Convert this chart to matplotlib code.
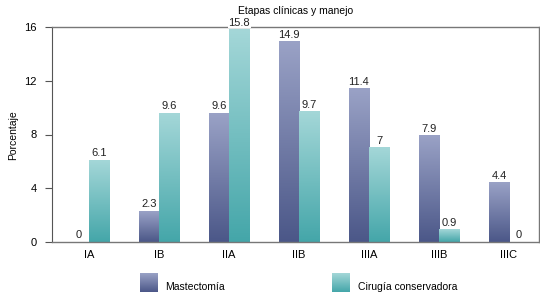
import numpy as np
import matplotlib
matplotlib.use("Agg")
import matplotlib.pyplot as plt
from matplotlib.colors import LinearSegmentedColormap

plt.rcParams['font.family'] = ['Liberation Sans Narrow', 'Liberation Sans', 'DejaVu Sans']

# data
etapas = ['IA', 'IB', 'IIA', 'IIB', 'IIIA', 'IIIB', 'IIIC']
mastectomia = [0, 2.3, 9.6, 14.9, 11.4, 7.9, 4.4]
cirugia = [6.1, 9.6, 15.8, 9.7, 7, 0.9, 0]
series_names = ['Mastectomía', 'Cirugía conservadora']
yticks = [0, 4, 8, 12, 16]

cmap_mast = LinearSegmentedColormap.from_list('mast', ['#4b5788', '#9aa2c6'])
cmap_cir = LinearSegmentedColormap.from_list('cir', ['#44a6a9', '#a4d7d8'])
grad = np.linspace(0, 1, 256).reshape(-1, 1)

fig = plt.figure(figsize=(5.4, 2.96), dpi=100)
ax = fig.add_axes([52 / 540, 1 - 242 / 296, (539 - 52) / 540, (242 - 27) / 296])

width = 0.286
x = np.arange(len(etapas))


def gradient_bars(ax, xs, vals, cmap):
    for xi, v in zip(xs, vals):
        if v <= 0:
            continue
        ax.imshow(grad, cmap=cmap, origin='lower', aspect='auto',
                  extent=(xi - width / 2, xi + width / 2, 0, v), zorder=2)


def labels(ax, xs, vals):
    for xi, v in zip(xs, vals):
        ax.text(xi, v + 0.15, f'{v:g}', ha='center', va='bottom', fontsize=8,
                color='#222222', zorder=4,
                bbox=dict(facecolor='white', edgecolor='none', pad=0.5))


gradient_bars(ax, x - width / 2, mastectomia, cmap_mast)
gradient_bars(ax, x + width / 2, cirugia, cmap_cir)
labels(ax, x - width / 2, mastectomia)
labels(ax, x + width / 2, cirugia)

ax.set_xlim(-0.53, 6.43)
ax.set_ylim(0, 16)
ax.set_yticks(yticks)
ax.set_xticks(x)
ax.set_xticklabels(etapas)
ax.tick_params(axis='x', length=0, pad=6, labelsize=8)
ax.tick_params(axis='y', length=5, width=0.8, color='#555555', pad=6, labelsize=8)
for s in ['top', 'right', 'bottom']:
    ax.spines[s].set_color('#777777')
    ax.spines[s].set_linewidth(1.0)
ax.spines['left'].set_color('#555555')
ax.spines['left'].set_linewidth(0.8)
fig.text(13 / 540, 1 - 135 / 296, 'Porcentaje', fontsize=7.5, rotation=90,
         ha='center', va='center')
ax.set_title('Etapas clínicas y manejo', fontsize=7.5, pad=9)

# legend with gradient patches
for (px, tx), name, cmap in zip([(140, 165), (332, 358)], series_names, [cmap_mast, cmap_cir]):
    pax = fig.add_axes([px / 540, 1 - 292 / 296, 18 / 540, 19 / 296])
    pax.imshow(grad, cmap=cmap, origin='lower', aspect='auto')
    pax.axis('off')
    fig.text(tx / 540, 1 - 287 / 296, name, fontsize=7.5, va='center', ha='left')

fig.savefig('out.png', dpi=100)
